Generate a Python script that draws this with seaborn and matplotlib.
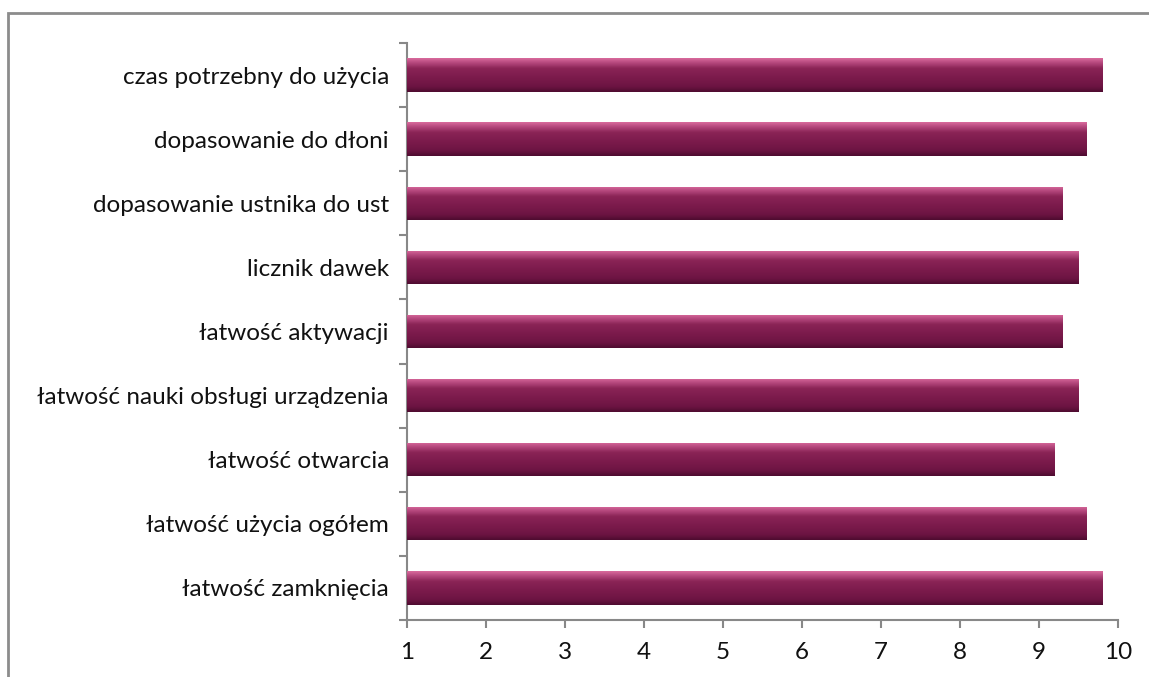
import matplotlib
matplotlib.use("Agg")
import matplotlib.pyplot as plt
import seaborn as sns
import numpy as np
import pandas as pd
from matplotlib.colors import LinearSegmentedColormap
from matplotlib.patches import Rectangle

categories = [
    "czas potrzebny do użycia",
    "dopasowanie do dłoni",
    "dopasowanie ustnika do ust",
    "licznik dawek",
    "łatwość aktywacji",
    "łatwość nauki obsługi urządzenia",
    "łatwość otwarcia",
    "łatwość użycia ogółem",
    "łatwość zamknięcia",
]
values = [9.8, 9.6, 9.3, 9.5, 9.3, 9.5, 9.2, 9.6, 9.8]
x_ticks = [1, 2, 3, 4, 5, 6, 7, 8, 9, 10]
axis_start = 1

df = pd.DataFrame({"cat": categories, "val": values})
df["span"] = df["val"] - axis_start  # bars start at the axis minimum (1)

sns.set_theme(style="white")
plt.rcParams["font.family"] = ["Lato", "DejaVu Sans"]

fig = plt.figure(figsize=(11.49, 6.77), dpi=100)
ax = fig.add_axes([0.3542, 0.0842, 0.6188, 0.8523])

base_color = "#7a1a4b"
sns.barplot(data=df, y="cat", x="span", orient="h", color=base_color,
            width=0.52, ax=ax, left=axis_start, saturation=1)

# gradient shading on each bar
cmap = LinearSegmentedColormap.from_list(
    "bar", [(0.0, "#d86a9c"), (0.12, "#b84a80"), (0.3, "#8a2456"),
            (0.6, "#7a1a4b"), (0.85, "#6c1442"), (1.0, "#4e0c30")])
grad = np.linspace(0, 1, 64).reshape(-1, 1)
for p in list(ax.patches):
    x0, y0 = p.get_x(), p.get_y()
    w, h = p.get_width(), p.get_height()
    im = ax.imshow(grad, cmap=cmap, aspect="auto",
                   extent=[x0, x0 + w, y0 + h, y0], zorder=3,
                   interpolation="bicubic")
    im.set_clip_path(p)

ax.set_xlim(1, 10)
ax.set_ylim(len(categories) - 0.5, -0.5)
ax.set_xticks(x_ticks)
ax.set_xticklabels([str(t) for t in x_ticks])
ax.set_xlabel("")
ax.set_ylabel("")

# y tick marks at category boundaries, labels at centers
ax.set_yticks(np.arange(len(categories)))
ax.set_yticklabels(categories)
ax.set_yticks(np.arange(-0.5, len(categories)), minor=True)
ax.tick_params(axis="y", which="major", length=0, pad=13, labelsize=17.5,
               labelcolor="#111111")
ax.tick_params(axis="y", which="minor", length=6, width=1.5, color="#888888",
               left=True)
ax.tick_params(axis="x", which="major", length=6, width=1.5, color="#888888",
               bottom=True, labelsize=17.5, labelcolor="#111111", pad=10)

for s in ["top", "right"]:
    ax.spines[s].set_visible(False)
for s in ["left", "bottom"]:
    ax.spines[s].set_color("#888888")
    ax.spines[s].set_linewidth(1.5)

# outer chart border (only top/left visible in reference)
fig.patches.append(Rectangle((8 / 1149, -0.1), 1.2, 1 - 13 / 677 + 0.1,
                             transform=fig.transFigure, fill=False,
                             edgecolor="#8c8c8c", linewidth=2, zorder=0))

fig.savefig("out.png", dpi=100)
